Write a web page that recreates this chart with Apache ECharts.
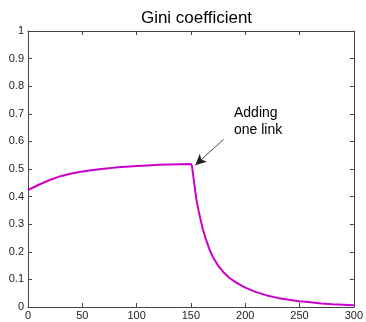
<!DOCTYPE html>
<html>
<head>
<meta charset="utf-8">
<script src="https://cdn.jsdelivr.net/npm/echarts@6/dist/echarts.min.js"></script>
<style>
html,body{margin:0;padding:0;background:#fff;}
#chart{width:366px;height:322px;}
</style>
</head>
<body>
<div id="chart"></div>
<script>
var titleText = 'Gini coefficient';
var annotationText = 'Adding\none link';
var xValues = [0,10,20,30,40,50,60,70,80,90,100,110,120,130,140,150,151,153,155,157,159,161,164,167,170,175,180,185,190,195,200,210,220,230,240,250,260,270,280,290,300];
var giniValues = [0.424,0.443,0.46,0.474,0.484,0.491,0.496,0.501,0.505,0.508,0.511,0.513,0.515,0.516,0.517,0.518,0.51,0.45,0.39,0.35,0.315,0.282,0.243,0.21,0.183,0.15,0.126,0.107,0.093,0.081,0.07,0.054,0.042,0.033,0.026,0.021,0.017,0.013,0.01,0.008,0.006];
var arrowStart = [180, 0.607];
var arrowTip = [154, 0.514];

var seriesData = xValues.map(function (x, i) { return [x, giniValues[i]]; });

var axisColor = '#444';
var labelStyle = { color: '#222', fontSize: 11, fontFamily: 'Liberation Sans, Arial, sans-serif' };

var chart = echarts.init(document.getElementById('chart'), null, { renderer: 'canvas' });
chart.setOption({
  animation: false,
  backgroundColor: '#fff',
  title: {
    text: titleText,
    left: 191.5,
    textAlign: 'center',
    top: 5,
    textStyle: { fontSize: 17, fontWeight: 'normal', color: '#000', fontFamily: 'Liberation Sans, Arial, sans-serif' }
  },
  grid: { left: 28, right: 11, top: 31, bottom: 15, containLabel: false },
  xAxis: [{
    type: 'value', min: 0, max: 300, interval: 50, position: 'bottom',
    axisLine: { show: true, lineStyle: { color: axisColor, width: 1 } },
    axisTick: { show: true, inside: true, length: 4, lineStyle: { color: axisColor } },
    axisLabel: Object.assign({ margin: 3 }, labelStyle),
    splitLine: { show: false }
  }, {
    type: 'value', min: 0, max: 300, interval: 50, position: 'top',
    axisLine: { show: true, onZero: false, lineStyle: { color: axisColor, width: 1 } },
    axisTick: { show: true, inside: true, length: 4, lineStyle: { color: axisColor } },
    axisLabel: { show: false },
    splitLine: { show: false }
  }],
  yAxis: [{
    type: 'value', min: 0, max: 1, interval: 0.1, position: 'left',
    axisLine: { show: true, lineStyle: { color: axisColor, width: 1 } },
    axisTick: { show: true, inside: true, length: 4, lineStyle: { color: axisColor } },
    axisLabel: Object.assign({ margin: 4 }, labelStyle),
    splitLine: { show: false }
  }, {
    type: 'value', min: 0, max: 1, interval: 0.1, position: 'right',
    axisLine: { show: true, onZero: false, lineStyle: { color: axisColor, width: 1 } },
    axisTick: { show: true, inside: true, length: 4, lineStyle: { color: axisColor } },
    axisLabel: { show: false },
    splitLine: { show: false }
  }],
  series: [{
    type: 'line',
    data: seriesData,
    xAxisIndex: 0, yAxisIndex: 0,
    showSymbol: false,
    symbol: 'none',
    lineStyle: { color: '#cc00cc', width: 2 },
    markLine: {
      silent: true,
      symbol: ['none', 'arrow'],
      symbolSize: [8, 11],
      label: { show: false },
      lineStyle: { color: '#222', width: 0.8, type: 'solid' },
      data: [[{ coord: arrowStart }, { coord: arrowTip }]]
    }
  }],
  graphic: [{
    type: 'text',
    left: 234,
    top: 105,
    style: {
      text: annotationText,
      fill: '#000',
      fontSize: 14,
      lineHeight: 17,
      fontFamily: 'Liberation Sans, Arial, sans-serif'
    }
  }]
});
</script>
</body>
</html>
